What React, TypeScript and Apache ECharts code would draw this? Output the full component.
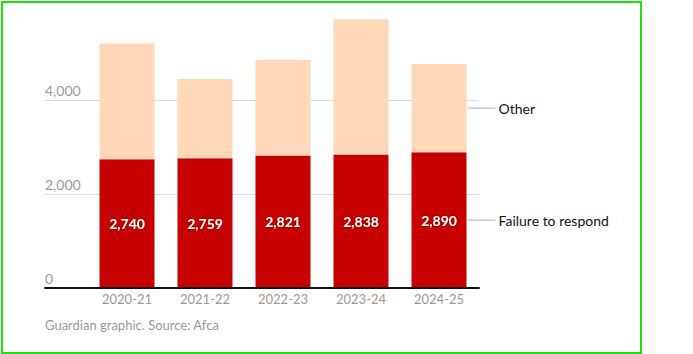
import React, { useEffect, useRef } from "react";
import * as echarts from "echarts";

const categories = ["2020-21", "2021-22", "2022-23", "2023-24", "2024-25"];
const failureToRespond = [2740, 2759, 2821, 2838, 2890];
const other = [2460, 1690, 2030, 2880, 1875];
const seriesNames = ["Failure to respond", "Other"];
const yTicks = [0, 2000, 4000, 6000];
const footer = "Guardian graphic. Source: Afca";

const FONT = "Lato, 'Noto Sans', sans-serif";
const RED = "#c70000";
const PEACH = "#fed8b8";

export default function App() {
  const ref = useRef<HTMLDivElement>(null);
  useEffect(() => {
    if (!ref.current) return;
    const chart = echarts.init(ref.current, undefined, { renderer: "svg" });
    const last = categories.length - 1;
    const sideRich = {
      line: { width: 28, height: 1, backgroundColor: "#aaaaaa" },
      t: { fontSize: 14, color: "#121212", fontFamily: FONT, padding: [0, 0, 0, 3] },
    };
    const sideLabel = (name: string) => ({
      show: true,
      position: "right",
      distance: 1,
      formatter: "{line| }{t|" + name + "}",
      rich: sideRich,
    });
    chart.setOption({
      animation: false,
      textStyle: { fontFamily: FONT },
      title: {
        text: footer,
        left: 45,
        top: 318,
        padding: 0,
        textStyle: { fontSize: 13, fontWeight: "normal", color: "#999999", fontFamily: FONT },
      },
      graphic: [
        {
          type: "rect",
          shape: { x: 2, y: 2, width: 639, height: 351 },
          style: { fill: "none", stroke: "#22dd11", lineWidth: 2 },
        },
      ],
      grid: [
        { left: 45, right: 214, top: 6, bottom: 66 },
        { left: 88, right: 215, top: 6, bottom: 66 },
      ],
      xAxis: [
        {
          type: "category",
          gridIndex: 0,
          data: [""],
          axisLine: { show: true, lineStyle: { color: "#121212", width: 2 } },
          axisTick: { show: false },
          axisLabel: { show: false },
          z: 10,
        },
        {
          type: "category",
          gridIndex: 1,
          data: categories,
          axisLine: { show: false },
          axisTick: { show: false },
          axisLabel: { color: "#999999", fontSize: 13, margin: 4, fontFamily: FONT },
        },
      ],
      yAxis: [
        {
          type: "value",
          gridIndex: 0,
          min: yTicks[0],
          max: yTicks[yTicks.length - 1],
          interval: 2000,
          axisLine: { show: false },
          axisTick: { show: false },
          splitLine: {
            show: true,
            lineStyle: { color: ["#dcdcdc", "#dcdcdc", "#dcdcdc", "rgba(0,0,0,0)"], width: 1 },
          },
          axisLabel: {
            inside: true,
            margin: 0,
            align: "left",
            verticalAlign: "bottom",
            padding: [0, 0, 3, 0],
            color: "#999999",
            fontSize: 14,
            fontFamily: FONT,
            formatter: (v: number) => (v === yTicks[yTicks.length - 1] ? "" : v.toLocaleString("en-GB")),
          },
        },
        {
          type: "value",
          gridIndex: 1,
          min: yTicks[0],
          max: yTicks[yTicks.length - 1],
          interval: 2000,
          show: false,
          splitLine: { show: false },
        },
      ],
      series: [
        {
          name: seriesNames[0],
          type: "bar",
          xAxisIndex: 1,
          yAxisIndex: 1,
          stack: "total",
          barWidth: 55,
          itemStyle: { color: RED },
          label: {
            show: true,
            position: "inside",
            color: "#ffffff",
            fontWeight: "bold",
            fontSize: 14,
            fontFamily: FONT,
            textShadowColor: "rgba(0,0,0,0.5)",
            textShadowBlur: 2,
            formatter: (p: any) => Number(p.value).toLocaleString("en-GB"),
          },
          data: failureToRespond,
        },
        {
          name: seriesNames[1],
          type: "bar",
          xAxisIndex: 1,
          yAxisIndex: 1,
          stack: "total",
          barWidth: 55,
          itemStyle: { color: PEACH },
          data: other.map((v, i) => (i === last ? { value: v, label: sideLabel(seriesNames[1]) } : v)),
        },
        {
          name: "label-" + seriesNames[0],
          type: "bar",
          xAxisIndex: 1,
          yAxisIndex: 1,
          barWidth: 55,
          barGap: "-100%",
          itemStyle: { color: "rgba(0,0,0,0)" },
          silent: true,
          data: failureToRespond.map((v, i) =>
            i === last ? { value: v, label: sideLabel(seriesNames[0]) } : null
          ),
        },
      ],
    });
    return () => chart.dispose();
  }, []);
  return (
    <div
      ref={ref}
      style={{ position: "fixed", left: 0, top: 0, width: 693, height: 354, background: "#fff" }}
    />
  );
}
